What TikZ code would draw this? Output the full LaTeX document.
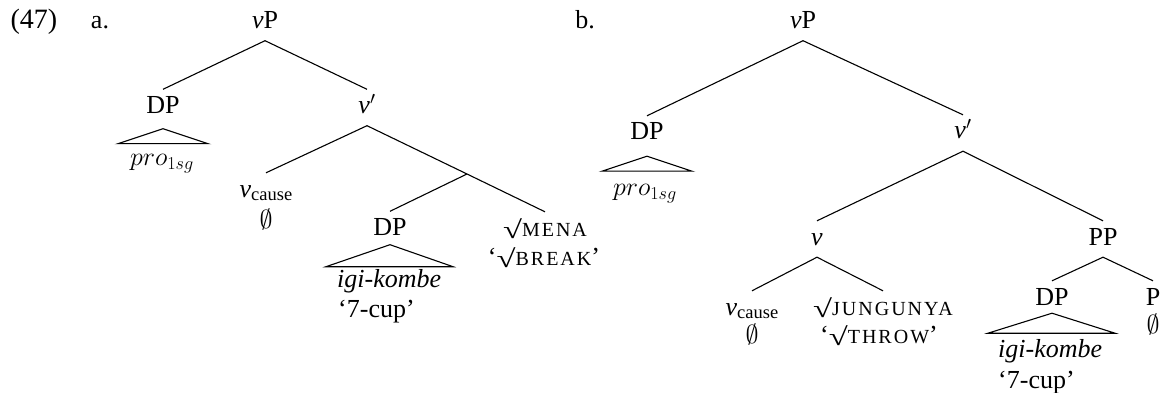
\RequirePackage{fix-cm}
\documentclass[tikz,border=0pt]{standalone}
\usepackage{fontspec}
\usepackage{graphicx}
\setmainfont{Liberation Serif}
\newcommand\vcause{\textit{v}\raisebox{-3pt}{\fontsize{18.5}{18.5}\selectfont cause}}
\newcommand\rt[1]{\raisebox{-2.5pt}{\resizebox*{19pt}{20pt}{√}}{\fontsize{20}{20}\selectfont\addfontfeature{LetterSpace=10}#1}}
\begin{document}
\begin{tikzpicture}[x=1pt,y=-1pt,
  every node/.style={font=\fontsize{26}{30}\selectfont},
  lab/.style={inner xsep=2pt, inner ysep=6pt, text height=18pt, text depth=6pt, anchor=base},
  leaf/.style={inner xsep=2pt, inner ysep=6pt, text height=18pt, text depth=0pt, anchor=base},
  txt/.style={inner sep=0pt, anchor=base},
  txtl/.style={inner sep=0pt, anchor=base west},
  edge/.style={line width=1.1pt, line join=miter}]
\useasboundingbox (0,0) rectangle (1165,393);
% labels
\node[txt,font=\fontsize{28}{30}\selectfont] (ex) at (34,28.5) {(47)};
\node[txt] (la) at (100,28.5) {a.};
\node[txt] (lb) at (585,28.5) {b.};
% tree a
\node[lab] (vPa) at (265,28.5) {\textit{v}P};
\node[lab] (DPa) at (163,113.5) {DP};
\node[lab] (vbara) at (367,113.5) {\textit{v}$'$};
\node[txt] (proa) at (162,166) {$pro_{1sg}$};
\node[leaf] (vca) at (266,197) {\vcause};
\node[txt] (ea) at (266,228) {$\emptyset$};
\coordinate (ja) at (467,174);
\node[lab] (DPa2) at (390,235.5) {DP};
\node[leaf] (rta) at (545,236) {\rt{MENA}};
\node[txt] (rta2) at (544,265) {‘\rt{BREAK}’};
\node[txtl] (igia) at (337,287) {\textit{igi-kombe}};
\node[txtl] (cupa) at (338,317) {‘7-cup’};
\draw[edge] (vPa.south) -- (DPa.north);
\draw[edge] (vPa.south) -- (vbara.north);
\draw[edge] (vbara.south) -- (vca.north);
\draw[edge] (vbara.south) -- (ja) -- (rta.north);
\draw[edge] (ja) -- (DPa2.north);
\draw[edge] ([yshift=-3pt]DPa.south) -- ++(-45,15) -- ++(90,0) -- cycle;
\draw[edge] ([yshift=3pt]DPa2.south) -- ++(-64,22) -- ++(127,0) -- cycle;
% tree b
\node[lab] (vPb) at (803,28.5) {\textit{v}P};
\node[lab] (DPb) at (647,140) {DP};
\node[lab] (vbarb) at (963,139) {\textit{v}$'$};
\node[txt] (prob) at (645,196) {$pro_{1sg}$};
\node[lab] (vb) at (817,245) {\textit{v}};
\node[lab] (PPb) at (1103,245) {PP};
\node[leaf] (vcb) at (752,315) {\vcause};
\node[txt] (eb) at (752,343) {$\emptyset$};
\node[leaf] (rtb) at (883,315) {\rt{JUNGUNYA}};
\node[txt] (rtb2) at (879,343) {‘\rt{THROW}’};
\node[lab] (DPb2) at (1052,305) {DP};
\node[leaf] (Pb) at (1153,305) {P};
\node[txt] (eP) at (1153,333) {$\emptyset$};
\node[txtl] (igib) at (998,357) {\textit{igi-kombe}};
\node[txtl] (cupb) at (998,388) {‘7-cup’};
\draw[edge] (vPb.south) -- (DPb.north);
\draw[edge] (vPb.south) -- (vbarb.north);
\draw[edge] (vbarb.south) -- (vb.north);
\draw[edge] (vbarb.south) -- (PPb.north);
\draw[edge] (vb.south) -- (vcb.north);
\draw[edge] (vb.south) -- (rtb.north);
\draw[edge] (PPb.south) -- (DPb2.north);
\draw[edge] (PPb.south) -- (Pb.north);
\draw[edge] ([yshift=-4pt]DPb.south) -- ++(-45,15) -- ++(90,0) -- cycle;
\draw[edge] ([yshift=4pt]DPb2.south) -- ++(-64,20) -- ++(127,0) -- cycle;
\end{tikzpicture}
\end{document}
